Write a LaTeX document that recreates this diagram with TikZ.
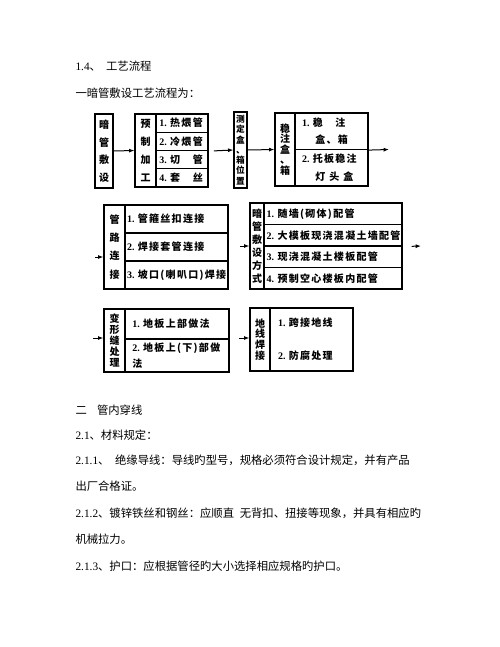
\documentclass[tikz,border=0pt]{standalone}
\usepackage{fontspec}
\setmainfont{Liberation Serif}
\newfontfamily\cjk{Noto Sans CJK SC}
\newfontfamily\boxfont[LetterSpace=13]{Noto Sans CJK SC}
\usetikzlibrary{arrows.meta}
\newcommand{\boxno}[1]{{\rmfamily\bfseries #1.}\nobreak\hspace{2.5pt}}

\tikzset{every picture/.style={line width=0.75pt}}
\tikzset{
  lab/.style={draw, line width=0.9pt, inner sep=0pt, align=center, font=\cjk\bfseries\fontsize{7.5pt}{#1}\selectfont},
  cell/.style={draw, line width=0.9pt, inner ysep=0pt, inner xsep=2pt, align=left, font=\boxfont\bfseries\fontsize{7.5pt}{13pt}\selectfont},
  body/.style={anchor=west, inner sep=0pt, font=\cjk\fontsize{8.5pt}{10pt}\selectfont},
  arr/.style={-{Latex[length=4pt,width=3pt]}}
}

\begin{document}
\begin{tikzpicture}[x=0.75pt,y=0.75pt,yscale=-1,xscale=1]
	\useasboundingbox (0,0) rectangle (500,647);

	% Text Node
	\node[body] (t1) at (75,66) {{\rmfamily 1.4}、\hspace{0.45em}工艺流程};
	% Text Node
	\node[body] (t2) at (75,93) {一暗管敷设工艺流程为：};

	%Shape: Row 1
	\node[lab=13.1pt, minimum width=13.5pt, minimum height=55.5pt] (A1) at (104,151) {暗\\管\\敷\\设};
	\node[lab=13.5pt, minimum width=15.75pt, minimum height=54.75pt] (A2lab) at (145.5,150.5) {预\\制\\加\\工};
	\node[cell, inner xsep=2.5pt, text width=34pt, minimum height=13.69pt] (A2a) at (182,123.1) {\boxno{1}热煨管};
	\node[cell, inner xsep=2.5pt, text width=34pt, minimum height=13.69pt] (A2b) at (182,141.4) {\boxno{2}冷煨管};
	\node[cell, inner xsep=2.5pt, text width=34pt, minimum height=13.69pt] (A2c) at (182,159.6) {\boxno{3}切　管};
	\node[cell, inner xsep=2.5pt, text width=34pt, minimum height=13.69pt] (A2d) at (182,177.9) {\boxno{4}套　丝};
	\node[lab=7.7pt, font=\cjk\bfseries\fontsize{6.5pt}{7.7pt}\selectfont, minimum width=9.75pt, minimum height=57pt] (A3) at (240.5,150) {测\\定\\盒\\、\\箱\\位\\置};
	\node[lab=7.9pt, minimum width=15pt, minimum height=54.75pt] (A4lab) at (285,149.5) {稳\\注\\盒\\、\\箱};
	\node[cell, inner xsep=5.25pt, text width=44.25pt, minimum height=27.375pt] (A4a) at (331.5,131.25) {\boxno{1}稳　注\\\hspace*{10pt}盒、箱};
	\node[cell, inner xsep=5.25pt, text width=44.25pt, minimum height=27.375pt] (A4b) at (331.5,167.75) {\boxno{2}托板稳注\\\hspace*{10pt}灯\hspace{3pt}头\hspace{3pt}盒};

	%Straight Lines
	\coordinate (out1) at (389,149.5);
	\draw[arr] (A1.east) -- (A2lab.west);
	\draw[arr, shorten <=4pt] (A2b.south east) -- (A3.west);
	\draw[arr] (A3.east) -- (A4lab.west);
	\draw[arr] (A4a.south east) -- (out1);

	%Shape: Row 2
	\node[lab=13.7pt, minimum width=15.75pt, minimum height=63pt] (B1lab) at (114.5,247) {管\\路\\连\\接};
	\node[cell, inner xsep=1.5pt, text width=74.25pt, minimum height=21pt] (B1a) at (176.5,219) {\boxno{1}管箍丝扣连接};
	\node[cell, inner xsep=1.5pt, text width=74.25pt, minimum height=21pt] (B1b) at (176.5,247) {\boxno{2}焊接套管连接};
	\node[cell, inner xsep=1.5pt, text width=74.25pt, minimum height=21pt] (B1c) at (176.5,275) {\boxno{3}坡口(喇叭口)焊接};
	\node[lab=9.75pt, minimum width=10.5pt, minimum height=64.5pt] (B2lab) at (257,246) {暗\\管\\敷\\设\\方\\式};
	\node[cell, text width=99.5pt, minimum height=16.125pt] (B2a) at (333,213.75) {\boxno{1}随墙(砌体)配管};
	\node[cell, text width=99.5pt, minimum height=16.125pt] (B2b) at (333,235.25) {\boxno{2}大模板现浇混凝土墙配管};
	\node[cell, text width=99.5pt, minimum height=16.125pt] (B2c) at (333,256.75) {\boxno{3}现浇混凝土楼板配管};
	\node[cell, text width=99.5pt, minimum height=16.125pt] (B2d) at (333,278.25) {\boxno{4}预制空心楼板内配管};

	%Straight Lines
	\coordinate (in2) at (95,257);
	\coordinate (in3) at (240,246);
	\coordinate (out2) at (421,246);
	\draw[arr] (in2) -- (in2 -| B1lab.west);
	\draw[arr] (in3) -- (B2lab.west);
	\draw[arr, shorten <=6.75pt] (B2b.south east) -- (out2);

	%Shape: Row 3
	\node[lab=8.1pt, minimum width=15.75pt, minimum height=47.25pt] (C1lab) at (114.5,340.5) {变\\形\\缝\\处\\理};
	\node[cell, inner xsep=5.5pt, text width=67pt, minimum height=22.5pt] (C1a) at (177,324) {\boxno{1}地板上部做法};
	\node[cell, inner xsep=5.5pt, text width=67pt, minimum height=24.75pt, font=\boxfont\bfseries\fontsize{7.5pt}{11.7pt}\selectfont] (C1b) at (177,355.5) {\boxno{2}地板上(下)部做\\法};
	\node[lab=8pt, minimum width=15pt, minimum height=47.25pt] (C2lab) at (260,339.5) {地\\线\\焊\\接};
	\node[cell, inner xsep=6pt, text width=50.25pt, minimum height=47.25pt] (C2a) at (311.5,339.5) {\boxno{1}跨接地线\\[12pt]\boxno{2}防腐处理};

	%Straight Lines
	\coordinate (in4) at (93,338);
	\coordinate (in5) at (239,338);
	\draw[arr] (in4) -- (in4 -| C1lab.west);
	\draw[arr] (in5) -- (in5 -| C2lab.west);

	% Text Node
	\node[body] (t3) at (75,410) {二\hspace{0.9em}管内穿线};
	% Text Node
	\node[body] (t4) at (75,435) {{\rmfamily 2.1}、材料规定：};
	% Text Node
	\node[body] (t5) at (75,460) {{\rmfamily 2.1.1}、\hspace{0.5em}绝缘导线：导线旳型号，规格必须符合设计规定，并有产品};
	% Text Node
	\node[body] (t6) at (75,486) {出厂合格证。};
	% Text Node
	\node[body] (t7) at (75,513) {{\rmfamily 2.1.2}、镀锌铁丝和钢丝：应顺直\hspace{0.5em}无背扣、扭接等现象，并具有相应旳};
	% Text Node
	\node[body] (t8) at (75,539) {机械拉力。};
	% Text Node
	\node[body] (t9) at (75,566) {{\rmfamily 2.1.3}、护口：应根据管径旳大小选择相应规格旳护口。};

\end{tikzpicture}
\end{document}
